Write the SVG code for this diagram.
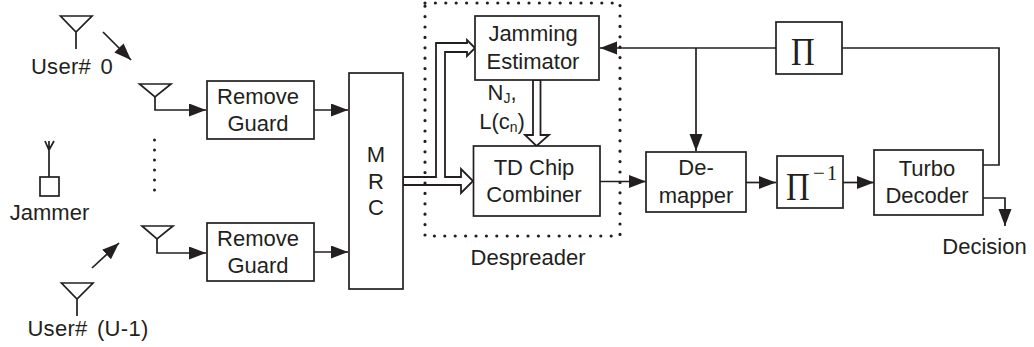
<svg xmlns="http://www.w3.org/2000/svg" width="1034" height="347" viewBox="0 0 1034 347">
<style>
.b{fill:#fff;stroke:#231f20;stroke-width:1.7}
.l{fill:none;stroke:#231f20;stroke-width:1.7}
.a{fill:none;stroke:#231f20;stroke-width:1.7;marker-end:url(#h)}
.t{font-family:"Liberation Sans",Arial,sans-serif;font-size:22px;fill:#231f20;text-anchor:middle}
.u{word-spacing:3px;letter-spacing:.3px}
.p{font-family:"Liberation Serif","Times New Roman",serif;fill:#231f20}
.w{fill:#fff;stroke:#231f20;stroke-width:1.8;stroke-linejoin:miter}
.d{fill:none;stroke:#231f20;stroke-width:3.2;stroke-linecap:round;stroke-dasharray:0 10.4}
</style>
<defs>
<marker id="h" markerUnits="userSpaceOnUse" markerWidth="18" markerHeight="14" refX="17" refY="6.5" orient="auto">
<path d="M0,0L17,6.5L0,13Z" fill="#231f20"/>
</marker>
</defs>
<g id="connectors">
<path class="a" d="M103,32L131,60"/>
<path class="a" d="M92,268L119,243"/>
<path class="a" d="M155,97V110H206"/>
<path class="a" d="M157,239V253H206"/>
<path class="a" d="M314,110H348"/>
<path class="a" d="M314,252H348"/>
<path class="a" d="M600,181.500H646"/>
<path class="a" d="M746,182.500H776"/>
<path class="a" d="M843,182.500H874"/>
<path class="l" d="M842,48H999V165H983"/>
<path class="a" d="M776,48H600"/>
<path class="a" d="M696,48V151"/>
<path class="a" d="M983,198H1005V226"/>
<path class="w" d="M403,177H436V43H467V40L475,48L467,56V52H445V177H461V169L473,181L461,193V185H403Z"/>
<path class="w" d="M533,80H540.500V135H549L536.500,146L525,135H533Z"/>
</g>
<g id="despreader">
<rect class="d" x="425" y="3" width="195" height="233"/>
<text class="t" x="528" y="265">Despreader</text>
</g>
<g id="user0">
<path class="l" d="M60.500,16H92L76,32ZM76,32V49"/>
<text class="t u" x="72" y="74">User# 0</text>
</g>
<g id="user-u1">
<path class="l" d="M61.500,283H93L77,299ZM77,299V316"/>
<text class="t u" x="88" y="336">User# (U-1)</text>
</g>
<g id="jammer">
<path class="l" d="M45,141L49,150L54,141M49,141V177"/>
<rect x="40" y="177" width="19" height="19" fill="#fff" stroke="#231f20" stroke-width="1.700"/>
<text class="t" x="49.500" y="220">Jammer</text>
</g>
<g id="rx-antenna-0"><path class="l" d="M139.500,84H171L155,97Z"/></g>
<g id="rx-antenna-1"><path class="l" d="M142,226H173L157,239Z"/></g>
<g id="rx-dots"><path class="l" style="stroke-width:3;stroke-linecap:round;stroke-dasharray:0 10" d="M154.500,140V191"/></g>
<g id="remove-guard-0">
<rect class="b" x="207" y="81" width="107" height="58"/>
<text class="t" x="258" y="104">Remove</text>
<text class="t" x="258" y="131">Guard</text>
</g>
<g id="remove-guard-1">
<rect class="b" x="207" y="223" width="107" height="58"/>
<text class="t" x="258" y="246">Remove</text>
<text class="t" x="258" y="273">Guard</text>
</g>
<g id="mrc">
<rect class="b" x="349" y="73" width="54" height="216"/>
<text class="t" x="376" y="162">M</text>
<text class="t" x="376" y="189">R</text>
<text class="t" x="376" y="215">C</text>
</g>
<g id="jamming-estimator">
<rect class="b" x="475" y="16" width="124" height="64"/>
<text class="t" x="533" y="41">Jamming</text>
<text class="t" x="533" y="69">Estimator</text>
</g>
<g id="nj-label">
<text class="t" x="502" y="100">N<tspan font-size="14" dy="3">J</tspan><tspan dy="-3">,</tspan></text>
<text class="t" x="502" y="129">L(c<tspan font-size="14" dy="3">n</tspan><tspan dy="-3">)</tspan></text>
</g>
<g id="td-chip-combiner">
<rect class="b" x="473.500" y="146" width="126.500" height="70"/>
<text class="t" x="534" y="175">TD Chip</text>
<text class="t" x="534" y="202">Combiner</text>
</g>
<g id="demapper">
<rect class="b" x="646" y="152" width="100" height="60"/>
<text class="t" x="696" y="175">De-</text>
<text class="t" x="696" y="203">mapper</text>
</g>
<g id="interleaver">
<rect class="b" x="776" y="22" width="66" height="52"/>
<text class="p" transform="translate(791,65) scale(.8,1)" font-size="41">Π</text>
</g>
<g id="deinterleaver">
<rect class="b" x="777" y="156" width="66" height="52"/>
<text class="p" transform="translate(786,200) scale(.8,1)" font-size="41">Π</text>
<text class="p" x="813" y="180" font-size="21" letter-spacing="2">−1</text>
</g>
<g id="turbo-decoder">
<rect class="b" x="874" y="150" width="109" height="65"/>
<text class="t" x="927" y="176">Turbo</text>
<text class="t" x="927" y="203">Decoder</text>
</g>
<g id="decision"><text class="t" x="984.500" y="254">Decision</text></g>
</svg>
